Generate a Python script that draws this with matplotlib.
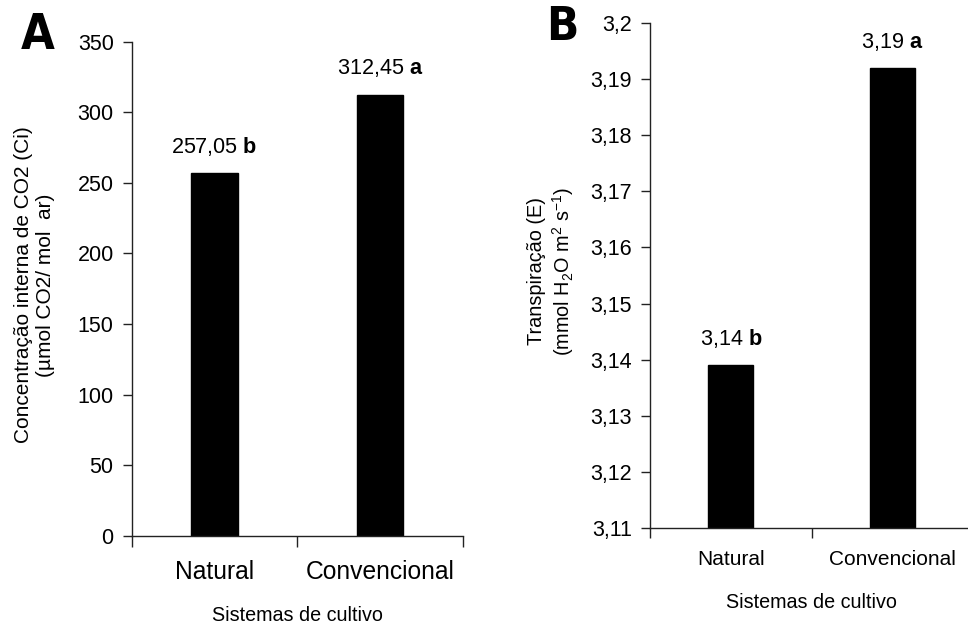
import matplotlib
matplotlib.use("Agg")
import matplotlib.pyplot as plt
import numpy as np

plt.rcParams['font.family'] = ['Liberation Sans', 'DejaVu Sans']
plt.rcParams['mathtext.fontset'] = 'custom'
plt.rcParams['mathtext.rm'] = 'Liberation Sans'
plt.rcParams['mathtext.bf'] = 'Liberation Sans:bold'

categories = ["Natural", "Convencional"]
ci_values = [257.05, 312.45]
ci_labels = ["257,05", "312,45"]
ci_letters = ["b", "a"]
e_values = [3.139, 3.192]
e_labels = ["3,14", "3,19"]
e_letters = ["b", "a"]
ci_ticks = [0, 50, 100, 150, 200, 250, 300, 350]
e_ticks = [3.11, 3.12, 3.13, 3.14, 3.15, 3.16, 3.17, 3.18, 3.19, 3.2]
e_ticklabels = ["3,11", "3,12", "3,13", "3,14", "3,15", "3,16", "3,17", "3,18", "3,19", "3,2"]

W, H = 968, 626
fig = plt.figure(figsize=(W/100, H/100), dpi=100)

def px_axes(x0, y0, x1, y1):
    return fig.add_axes([x0/W, 1 - y1/H, (x1-x0)/W, (y1-y0)/H])

def style(ax):
    for s in ['top', 'right']:
        ax.spines[s].set_visible(False)
    for s in ['left', 'bottom']:
        ax.spines[s].set_linewidth(1.0)
        ax.spines[s].set_color('#222222')
    ax.tick_params(axis='y', direction='out', length=6.5, width=1, color='#222222', pad=6.5)

x = np.arange(len(categories))

# Panel A
axA = px_axes(131.7, 41.7, 463, 535.7)
style(axA)
axA.bar(x, ci_values, width=0.28, color='black', edgecolor='black')
axA.set_xlim(-0.5, 1.5)
axA.set_ylim(0, 350)
axA.set_yticks(ci_ticks)
axA.set_yticklabels([str(t) for t in ci_ticks], fontsize=15.5)
axA.set_xticks([-0.5, 0.5, 1.5])
axA.set_xticklabels([])
axA.set_xticks(x, minor=True)
axA.set_xticklabels(categories, minor=True, fontsize=17.7)
axA.tick_params(axis='x', which='major', direction='out', length=8, width=1, color='#222222')
axA.tick_params(axis='x', which='minor', length=0, pad=17.5)
for xi, v, lab, let in zip(x, ci_values, ci_labels, ci_letters):
    axA.annotate(lab + " " + r"$\mathbf{" + let + "}$", (xi, v), xytext=(0, 19),
                 textcoords='offset points', ha='center', va='center', fontsize=15.6)
axA.set_xlabel("Sistemas de cultivo", fontsize=14.2, labelpad=15.5)
fig.text(34.5/W, 1 - 285/H, "Concentração interna de CO2 (Ci)\n(µmol CO2/ mol  ar)",
         rotation=90, ha='center', va='center', multialignment='center',
         fontsize=15, linespacing=1.15)
fig.text(38/W, 1 - 35/H, "A", fontsize=35, fontweight='bold', ha='center', va='center',
         family='DejaVu Sans', fontstretch='condensed')

# Panel B
axB = px_axes(650, 23.3, 973, 527.7)
style(axB)
axB.bar(x, e_values, width=0.28, color='black', edgecolor='black')
axB.set_xlim(-0.5, 1.5)
axB.set_ylim(3.11, 3.2)
axB.set_yticks(e_ticks)
axB.set_yticklabels(e_ticklabels, fontsize=15.5)
axB.set_xticks([-0.5, 0.5, 1.5])
axB.set_xticklabels([])
axB.set_xticks(x, minor=True)
axB.set_xticklabels(categories, minor=True, fontsize=15)
axB.tick_params(axis='x', which='major', direction='out', length=7, width=1, color='#222222')
axB.tick_params(axis='x', which='minor', length=0, pad=16)
for xi, v, lab, let in zip(x, e_values, e_labels, e_letters):
    axB.annotate(lab + " " + r"$\mathbf{" + let + "}$", (xi, v), xytext=(0, 19),
                 textcoords='offset points', ha='center', va='center', fontsize=15.6)
axB.set_xlabel("Sistemas de cultivo", fontsize=14.2, labelpad=17)
fig.text(551.5/W, 1 - 271/H, "Transpiração (E)\n(mmol H$_2$O m$^2$ s$^{-1}$)",
         rotation=90, ha='center', va='center', multialignment='center',
         fontsize=14.3, linespacing=1.2)
fig.text(562/W, 1 - 28/H, "B", fontsize=34, fontweight='bold', ha='center', va='center',
         family='DejaVu Sans', fontstretch='condensed')

fig.savefig("out.png", dpi=100)
